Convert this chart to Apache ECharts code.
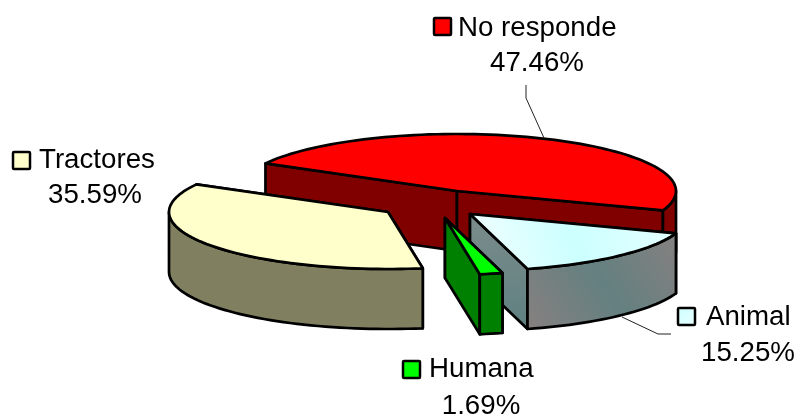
<!DOCTYPE html>
<html>
<head>
<meta charset="utf-8">
<style>html,body{margin:0;padding:0;background:#fff}#c{width:796px;height:414px}</style>
<script src="https://cdn.jsdelivr.net/npm/echarts@6/dist/echarts.min.js"></script>
</head>
<body>
<div id="c"></div>
<script>
// Data, clockwise from the No responde slice
var categories = ['No responde', 'Animal', 'Humana', 'Tractores'];
var percentValues = [47.46, 15.25, 1.69, 35.59];

// Presentation
var startAngle = 209;
var rx = 219, ry = 57, depth = 60;
var centers = [[457, 191], [470, 214], [445, 218], [388, 212]];
var lg = function (x, y, x2, y2, a, b, m) {
  var stops = [{offset: 0, color: a}, {offset: 1, color: b}];
  if (m) stops.splice(1, 0, {offset: 0.5, color: m});
  return {type: 'linear', x: x, y: y, x2: x2, y2: y2, colorStops: stops};
};
var animalTop = lg(0, 1, 1, 0, '#f4ffff', '#e6ffff', '#ccffff');
var topColors = ['#ff0000', animalTop, '#00ff00', '#ffffcc'];
var wallColors = ['#800000', lg(0, 1, 1, 0, '#888080', '#868080', '#648080'), '#008000', '#808060'];
var cutColors = ['#800000', lg(0, 0, 0, 1, '#7c8c8c', '#5f8080'), '#008000', '#808060'];
var keyColors = ['#ff0000', lg(0, 0, 1, 1, '#ccffff', '#eaffff'), '#00ff00', '#ffffcc'];
var labelLayout = [
  {key: [433, 17], name: [458, 28], pct: [537, 63]},
  {key: [677, 307], name: [706, 317], pct: [748, 353]},
  {key: [402, 360], name: [429, 369], pct: [481, 406]},
  {key: [12, 151], name: [39, 160], pct: [95, 195]}
];
var leaders = [
  [[526, 85], [526, 98], [544, 138]],
  [[622, 317], [658, 334], [671, 334]],
  null,
  null
];
var FONT = '"Liberation Sans", Arial, sans-serif';
var FS = 27.7;
var STROKE = 2.7;

function pt(c, deg, dz) {
  var r = deg * Math.PI / 180;
  return [c[0] + rx * Math.cos(r), c[1] + ry * Math.sin(r) + (dz || 0)];
}
function arc(c, a0, a1, dz) {
  var out = [], n = Math.max(2, Math.ceil(Math.abs(a1 - a0) / 2));
  for (var i = 0; i <= n; i++) out.push(pt(c, a0 + (a1 - a0) * i / n, dz));
  return out;
}
function poly(points, fill, lw) {
  return {type: 'polygon', shape: {points: points},
    style: {fill: fill, stroke: '#000', lineWidth: lw || STROKE, lineJoin: 'round'}};
}
function angleRange(i) {
  var total = percentValues.reduce(function (s, v) { return s + v; }, 0), a = startAngle;
  for (var k = 0; k < i; k++) a += percentValues[k] / total * 360;
  return [a, a + percentValues[i] / total * 360];
}
function text(str, x, y, align) {
  return {type: 'text', style: {text: str, x: x, y: y, fill: '#000', fontFamily: FONT, fontSize: FS,
    textAlign: align, textVerticalAlign: 'middle'}};
}
function renderItem(params, api) {
  var i = params.dataIndex, c = centers[i], r = angleRange(i), a0 = r[0], a1 = r[1];
  var kids = [];
  // cut faces
  [a0, a1].forEach(function (a) {
    var p = pt(c, a);
    kids.push(poly([c, p, [p[0], p[1] + depth], [c[0], c[1] + depth]], cutColors[i]));
  });
  // outer wall on the front half
  [[0, 180], [360, 540]].forEach(function (w) {
    var s = Math.max(a0, w[0]), e = Math.min(a1, w[1]);
    if (e > s) kids.push(poly(arc(c, s, e, 0).concat(arc(c, e, s, depth)), wallColors[i]));
  });
  // top face
  kids.push(poly([c].concat(arc(c, a0, a1, 0)), topColors[i]));
  // leader
  if (leaders[i]) kids.push({type: 'polyline', shape: {points: leaders[i]},
    style: {fill: null, stroke: '#222', lineWidth: 1}});
  // label
  var L = labelLayout[i];
  kids.push({type: 'rect', shape: {x: L.key[0] + 1, y: L.key[1] + 1, width: 17, height: 17, r: 1},
    style: {fill: keyColors[i], stroke: '#000', lineWidth: 2.5}});
  kids.push(text(categories[i], L.name[0], L.name[1], 'left'));
  kids.push(text(api.value(1).toFixed(2) + '%', L.pct[0], L.pct[1], 'center'));
  return {type: 'group', children: kids};
}
var chart = echarts.init(document.getElementById('c'), null, {renderer: 'canvas'});
chart.setOption({
  animation: false,
  backgroundColor: '#fff',
  series: [{
    type: 'custom',
    coordinateSystem: 'none',
    renderItem: renderItem,
    silent: true,
    data: categories.map(function (n, i) { return [n, percentValues[i]]; })
  }]
});
</script>
</body>
</html>
